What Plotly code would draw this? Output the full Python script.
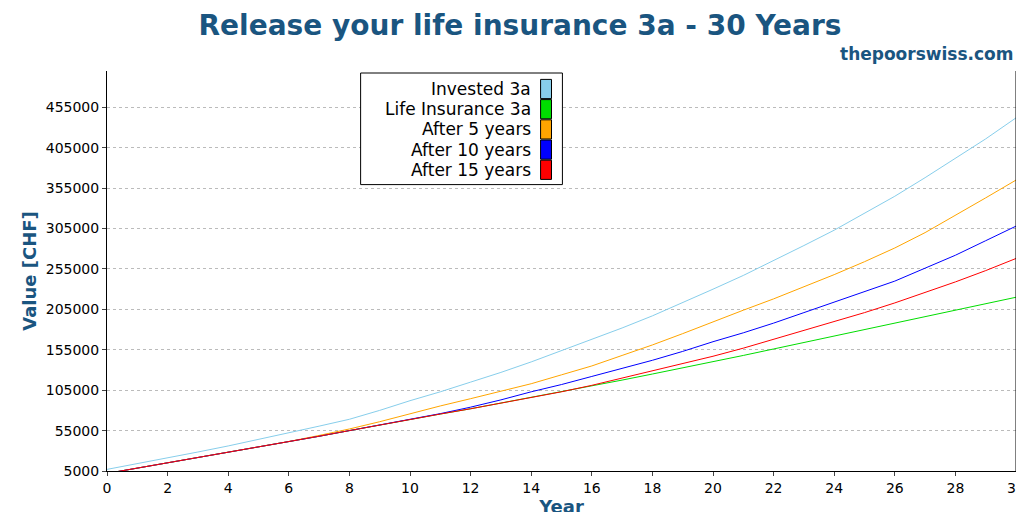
import plotly.graph_objects as go

years = list(range(31))
invested = [7000,14000,21000,28500,36000,44000,52000,60500,69000,80000,92000,103000,115000,127000,140000,154000,168000,182000,197000,213000,230000,247000,265000,284000,303000,324000,345000,368000,392000,416000,442000]
life = [2000,8500,15000,21500,28000,34500,41000,48000,55000,62000,69000,75500,82000,89000,96000,103000,110000,117500,125000,132500,140000,148000,156000,164000,172000,180000,188000,196000,204000,212000,220000]
after5 = [2000,8500,15000,21500,28000,34500,41500,49000,57000,66000,76000,85500,94500,103500,113000,124000,135000,148000,161000,175000,190000,204000,218000,233000,248000,264000,281000,300000,321000,343000,365000]
after10 = [2000,8500,15000,21500,28000,34500,41000,48000,55000,62000,69000,76000,84000,93000,103000,112000,122000,132000,142000,153000,165000,176000,188000,201000,214000,227000,240000,256000,272000,290000,308000]
after15 = [2000,8500,15000,21500,28000,34500,41000,48000,55000,62000,69000,75500,82000,89000,96000,103000,111000,120000,129000,138000,147000,157000,168000,179000,190000,201000,213000,226000,239000,253000,268000]
names = ["Invested 3a","Life Insurance 3a","After 5 years","After 10 years","After 15 years"]
colors = ["#87ceeb","#00dd00","#ffa500","#0000ff","#ff0000"]
series = [invested, life, after5, after10, after15]
yticks = list(range(5000, 460000, 50000))
xticks = list(range(0, 31, 2))

fig = go.Figure()
for n, c, s in zip(names, colors, series):
    fig.add_trace(go.Scatter(x=years, y=s, name=n, mode="lines", line=dict(color=c, width=1), showlegend=False))

blue = "#1a5580"
fig.update_layout(
    width=1024, height=512, margin=dict(l=99, r=16, t=63, b=49, autoexpand=False),
    plot_bgcolor="white", paper_bgcolor="white",
    font=dict(family="DejaVu Sans", size=14, color="black"),
    title=dict(text="<b>Release your life insurance 3a - 30 Years</b>", x=0.5, y=0.967, xanchor="center",
               yanchor="middle", automargin=False, font=dict(size=28, color=blue)),
    xaxis=dict(range=[0, 30], tickvals=xticks, showgrid=False, showline=True, linecolor="black",
               ticks="outside", ticklen=4, automargin=False,
               title=dict(text="<b>Year</b>", font=dict(size=18, color=blue), standoff=0)),
    yaxis=dict(range=[5000, 500000], tickvals=yticks, ticktext=[str(v) for v in yticks],
               showgrid=True, gridcolor="#bbbbbb", griddash="dot", automargin=False,
               showline=True, linecolor="black", ticks="outside", ticklen=4, zeroline=False,
               title=dict(text="<b>Value [CHF]</b>", font=dict(size=18, color=blue), standoff=4)),
)
fig.add_shape(type="line", xref="paper", yref="paper", x0=1, x1=1, y0=0, y1=1, line=dict(color="black", width=1))
fig.add_annotation(text="<b>thepoorswiss.com</b>", xref="paper", yref="paper", x=1, y=1.042, xanchor="right",
                   yanchor="middle", showarrow=False, font=dict(size=17, color=blue))
fig.add_shape(type="rect", xref="paper", yref="paper", x0=0.279, x1=0.501, y0=0.716, y1=0.995,
              line=dict(color="black", width=1), fillcolor="white")
for i, (n, c) in enumerate(zip(names, colors)):
    yy = 0.955 - i * 0.0505
    fig.add_annotation(text=n, xref="paper", yref="paper", x=0.469, y=yy, xanchor="right", yanchor="middle",
                       showarrow=False, font=dict(size=17))
    fig.add_shape(type="rect", xref="paper", yref="paper", x0=0.477, x1=0.489, y0=yy - 0.024, y1=yy + 0.024,
                  line=dict(color="black", width=1), fillcolor=c)
fig.write_html("out.html")
